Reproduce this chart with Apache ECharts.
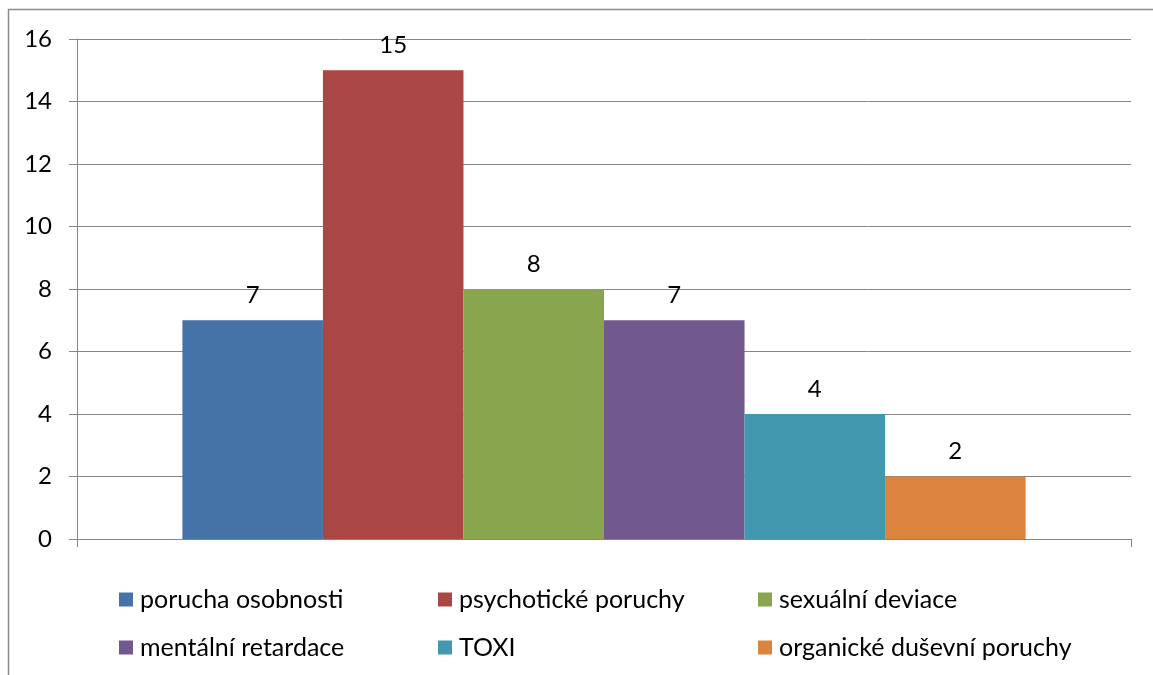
<!DOCTYPE html>
<html>
<head>
<meta charset="utf-8">
<script src="https://cdn.jsdelivr.net/npm/echarts@6/dist/echarts.min.js"></script>
<style>
  html, body { margin: 0; padding: 0; background: #fff; }
  #chart { width: 1153px; height: 675px; }
</style>
</head>
<body>
<div id="chart"></div>
<script>
// data
const seriesNames = [
  "porucha osobnosti",
  "psychotické poruchy",
  "sexuální deviace",
  "mentální retardace",
  "TOXI",
  "organické duševní poruchy"
];
const seriesValues = [7, 15, 8, 7, 4, 2];
const colors = ["#4572A7", "#AA4643", "#89A54E", "#71588F", "#4198AF", "#DB843D"];
const yTicks = [0, 2, 4, 6, 8, 10, 12, 14, 16];

const FONT = "Lato";
const GRAY = "#868686";

// legend laid out as 3 columns x 2 rows, one legend per entry
const legendCols = [114, 433, 753];
const legendRows = [582, 630];
const legends = seriesNames.map((name, i) => ({
  data: [name],
  left: legendCols[i % 3],
  top: legendRows[Math.floor(i / 3)],
  icon: "rect",
  itemWidth: 14,
  itemHeight: 14,
  itemGap: 0,
  selectedMode: false,
  textStyle: { fontFamily: FONT, fontSize: 25, color: "#000", padding: [0, 0, 0, 2] }
}));

const series = seriesNames.map((name, i) => ({
  name: name,
  type: "bar",
  data: [seriesValues[i]],
  barGap: "0%",
  barCategoryGap: "20%",
  itemStyle: { color: colors[i] },
  label: {
    show: true,
    position: "top",
    distance: 13,
    fontFamily: FONT,
    fontSize: 24,
    color: "#000"
  }
}));

const chart = echarts.init(document.getElementById("chart"));
chart.setOption({
  animation: false,
  backgroundColor: "#fff",
  textStyle: { fontFamily: FONT },
  graphic: [{
    type: "rect",
    shape: { x: 8.5, y: 9.5, width: 1300, height: 800 },
    style: { fill: "none", stroke: "#8c8c8c", lineWidth: 1.5 },
    silent: true
  }],
  grid: { left: 77, right: 22, top: 39, bottom: 136 },
  legend: legends,
  xAxis: {
    type: "category",
    data: [""],
    axisLine: { show: true, lineStyle: { color: GRAY, width: 1 } },
    axisTick: { show: true, length: 8, lineStyle: { color: GRAY } },
    axisLabel: { show: false }
  },
  yAxis: {
    type: "value",
    min: yTicks[0],
    max: yTicks[yTicks.length - 1],
    interval: 2,
    axisLine: { show: true, lineStyle: { color: GRAY, width: 1 } },
    axisTick: { show: true, length: 8, lineStyle: { color: GRAY } },
    splitLine: { show: true, lineStyle: { color: GRAY, width: 1 } },
    axisLabel: { margin: 25, fontFamily: FONT, fontSize: 24, color: "#000" }
  },
  series: series
});
</script>
</body>
</html>
